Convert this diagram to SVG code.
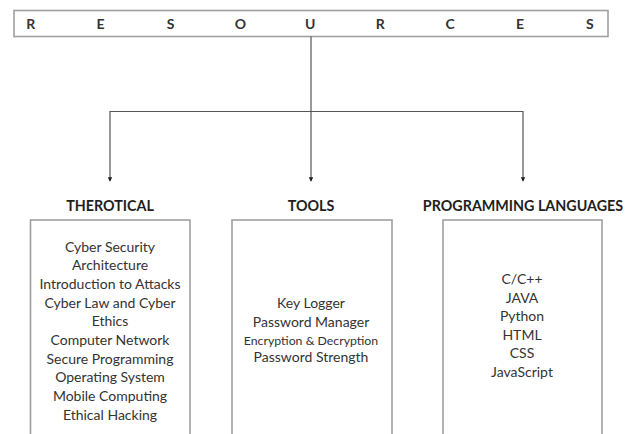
<svg xmlns="http://www.w3.org/2000/svg" width="638" height="434" viewBox="0 0 638 434">
<defs>
<style>
.box{fill:#fff;stroke:#a0a0a0;stroke-width:1.6}
.ttl{font-family:Lato,"Liberation Sans",sans-serif;font-weight:bold;font-size:14.3px;fill:#1e1e1e;text-anchor:middle}
.lt{font-family:Lato,"Liberation Sans",sans-serif;font-weight:bold;font-size:14px;fill:#333;text-anchor:middle}
.it{font-family:Lato,"Liberation Sans",sans-serif;font-size:14px;fill:#333;text-anchor:middle}
.sm{font-family:Lato,"Liberation Sans",sans-serif;font-size:12.3px;fill:#333;text-anchor:middle}
.ln{fill:none;stroke:#555;stroke-width:1.2}
</style>
<marker id="ah" viewBox="0 0 6 6" refX="5" refY="3" markerWidth="4.5" markerHeight="4.5" orient="auto" markerUnits="userSpaceOnUse">
<path d="M0,0 L6,3 L0,6 Z" fill="#222"/>
</marker>
</defs>
<rect width="638" height="434" fill="#fff"/>
<g id="resources">
<rect class="box" x="14" y="10.5" width="594" height="26"/>
<text class="lt" y="28.5"><tspan x="30.7">R</tspan><tspan x="100.6">E</tspan><tspan x="170.5">S</tspan><tspan x="240.4">O</tspan><tspan x="310.3">U</tspan><tspan x="380.2">R</tspan><tspan x="450.1">C</tspan><tspan x="520">E</tspan><tspan x="589.9">S</tspan></text>
</g>
<g id="connectors">
<path class="ln" d="M311,36.5 V181" marker-end="url(#ah)"/>
<path class="ln" d="M311,111.5 H110 V181" marker-end="url(#ah)"/>
<path class="ln" d="M311,111.5 H523 V181" marker-end="url(#ah)"/>
</g>
<g id="therotical">
<text class="ttl" x="110" y="211">THEROTICAL</text>
<rect class="box" x="30.5" y="220" width="159.5" height="230"/>
<text class="it" x="110" y="251.5">Cyber Security</text>
<text class="it" x="110" y="270.2">Architecture</text>
<text class="it" x="110" y="288.9">Introduction to Attacks</text>
<text class="it" x="110" y="307.6">Cyber Law and Cyber</text>
<text class="it" x="110" y="326.3">Ethics</text>
<text class="it" x="110" y="345">Computer Network</text>
<text class="it" x="110" y="363.7">Secure Programming</text>
<text class="it" x="110" y="382.4">Operating System</text>
<text class="it" x="110" y="401.1">Mobile Computing</text>
<text class="it" x="110" y="419.8">Ethical Hacking</text>
</g>
<g id="tools">
<text class="ttl" x="311" y="211">TOOLS</text>
<rect class="box" x="232" y="220" width="160" height="230"/>
<text class="it" x="311" y="308">Key Logger</text>
<text class="it" x="311" y="326.5">Password Manager</text>
<text class="sm" x="311" y="344.5">Encryption &amp; Decryption</text>
<text class="it" x="311" y="362">Password Strength</text>
</g>
<g id="languages">
<text class="ttl" x="523" y="211">PROGRAMMING LANGUAGES</text>
<rect class="box" x="443" y="220" width="159" height="230"/>
<text class="it" x="522" y="284">C/C++</text>
<text class="it" x="522" y="302.5">JAVA</text>
<text class="it" x="522" y="321">Python</text>
<text class="it" x="522" y="339.5">HTML</text>
<text class="it" x="522" y="358">CSS</text>
<text class="it" x="522" y="376.5">JavaScript</text>
</g>
</svg>
